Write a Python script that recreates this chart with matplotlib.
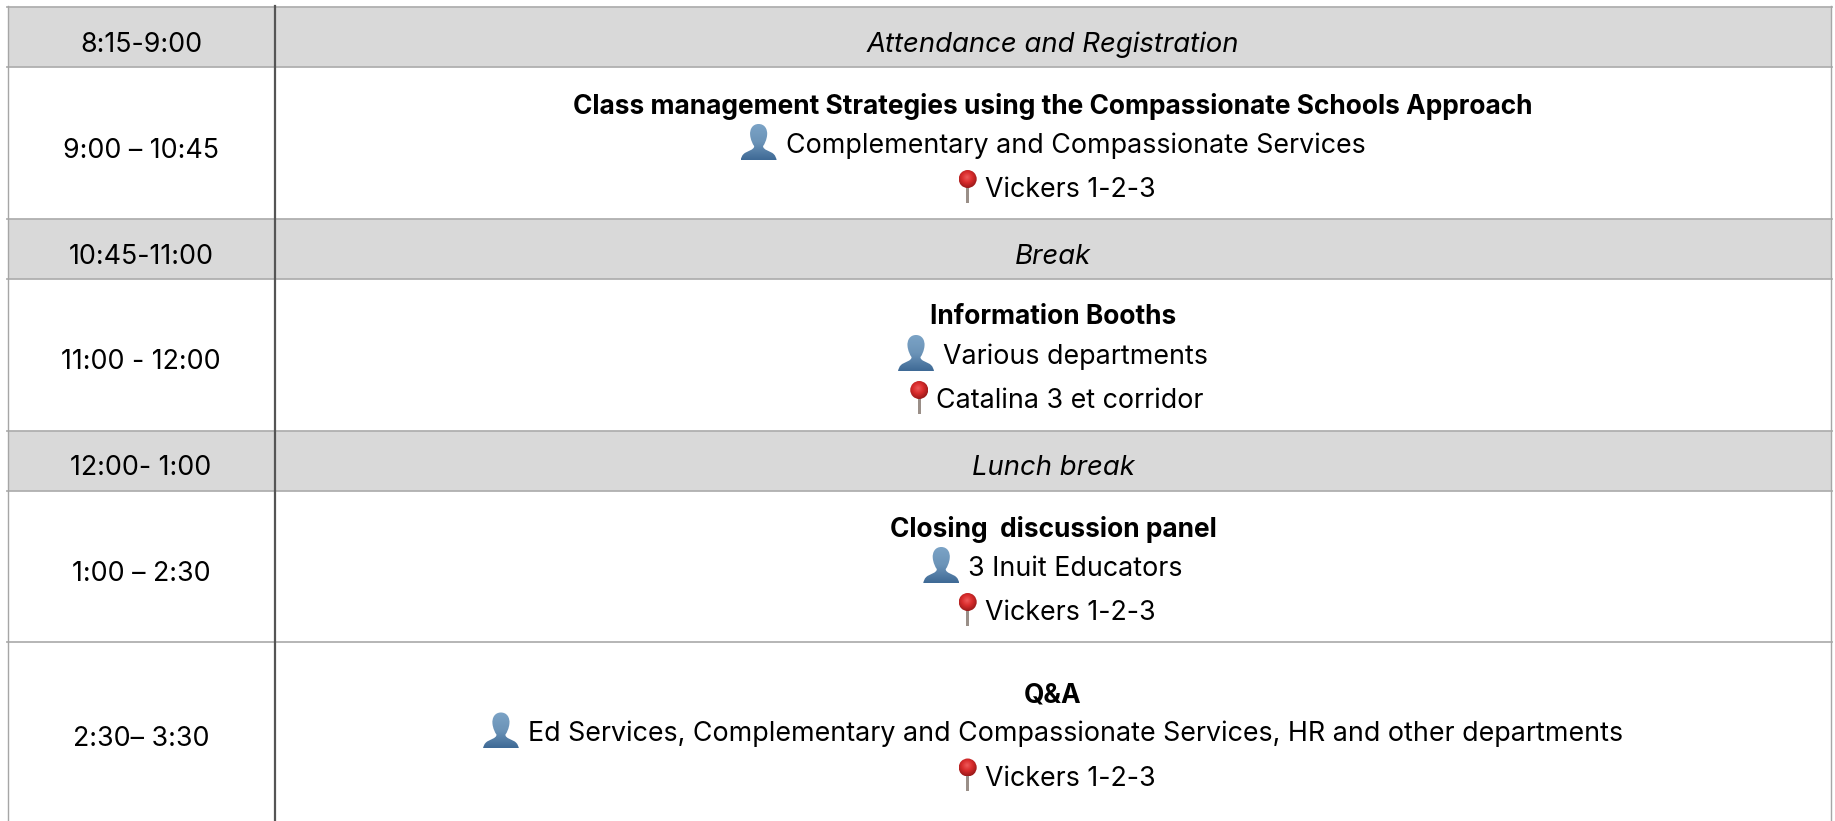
import numpy as np
import matplotlib
matplotlib.use("Agg")
import matplotlib.pyplot as plt
from matplotlib.path import Path
from matplotlib.patches import PathPatch, Rectangle, Circle

plt.rcParams['font.family'] = ['Inter', 'DejaVu Sans']

times = ["8:15-9:00", "9:00 – 10:45", "10:45-11:00", "11:00 - 12:00", "12:00- 1:00", "1:00 – 2:30", "2:30– 3:30"]
titles = ["Attendance and Registration", "Class management Strategies using the Compassionate Schools Approach",
          "Break", "Information Booths", "Lunch break", "Closing  discussion panel", "Q&A"]
people = [None, "Complementary and Compassionate Services", None, "Various departments", None,
          "3 Inuit Educators", "Ed Services, Complementary and Compassionate Services, HR and other departments"]
rooms = [None, "Vickers 1-2-3", None, "Catalina 3 et corridor", None, "Vickers 1-2-3", "Vickers 1-2-3"]

# layout, in pixels of the picture
row_edges = [7, 67.5, 219, 279.5, 431, 491.5, 642.5, 821]
time_y = [43, 149, 255, 360, 466, 572, 737.5]
col_left, col_div, col_right = 8, 274.5, 1831
col2_mid = 1053
FS = 19.3
FS_BOLD = 18.95
FS_ITALIC = 19.8
DY = 2  # text sits a bit lower than va='center' puts it

GRAD_BLUE = matplotlib.colors.LinearSegmentedColormap.from_list('b', ['#7ba3c6', '#6c94b8', '#3f6a96'])
GRAD_RED = matplotlib.colors.LinearSegmentedColormap.from_list('r', ['#ee5a5a', '#d92c2c', '#9c1a1a'])


def person(ax, x, y):
    # x, y = top left of the icon, 36 px box
    M, C, L = Path.MOVETO, Path.CURVE4, Path.LINETO
    verts = [(18, 0),
             (24, 0), (27, 5), (26.5, 11),
             (26, 16), (24, 20), (22.5, 22),
             (22, 26), (30, 27), (33, 30),
             (35, 32), (35.5, 34), (36, 36),
             (0, 36),
             (0.5, 34), (1, 32), (3, 30),
             (6, 27), (14, 26), (13.5, 22),
             (12, 20), (10, 16), (9.5, 11),
             (9, 5), (12, 0), (18, 0)]
    codes = [M, C, C, C, C, C, C, C, C, C, C, C, C, L, C, C, C, C, C, C, C, C, C, C, C, C]
    p = PathPatch(Path([(x + a, y + b) for a, b in verts], codes), fc='none', ec='none')
    ax.add_patch(p)
    im = ax.imshow(np.linspace(0, 1, 40)[:, None], extent=(x, x + 36, y + 36, y), cmap=GRAD_BLUE, aspect='auto', zorder=3)
    im.set_clip_path(p)


def pin(ax, x, y):
    # x, y = top left of the pin, 18 wide and 33 tall
    ax.add_patch(Rectangle((x + 7.5, y + 15), 3, 18, fc='#9a8f88', ec='none', zorder=3))
    c = Circle((x + 9, y + 9), 9, fc='none', ec='none')
    ax.add_patch(c)
    g = np.linspace(-1, 1, 40)
    gx, gy = np.meshgrid(g, g)
    r = np.sqrt((gx + 0.1) ** 2 + (gy + 0.2) ** 2)
    im = ax.imshow(r, extent=(x, x + 18, y + 18, y), cmap=GRAD_RED, vmin=0, vmax=1.2, aspect='auto', zorder=4)
    im.set_clip_path(c)


fig = plt.figure(figsize=(18.35, 8.21), dpi=100)
ax = fig.add_axes([0, 0, 1, 1])
ax.set_xlim(0, 1835)
ax.set_ylim(821, 0)
ax.axis('off')

# grey rows
for i in range(len(times)):
    if people[i] is None:
        ax.add_patch(Rectangle((col_left, row_edges[i]), col_right - col_left, row_edges[i + 1] - row_edges[i],
                               fc='#d9d9d9', ec='none', zorder=1))
for e in row_edges[:-1]:
    ax.plot([col_left - 1, col_right + 1], [e, e], color='#b0b0b0', lw=1.3, zorder=2)
ax.plot([col_left, col_left], [6, 821], color='#a6a6a6', lw=1.0, zorder=2)
ax.plot([col_right, col_right], [6, 821], color='#a6a6a6', lw=1.0, zorder=2)
ax.plot([col_div, col_div], [6, 821], color='#555555', lw=1.6, zorder=2)

rend = fig.canvas.get_renderer()


def width(t):
    return t.get_window_extent(rend).width


for i in range(len(times)):
    ym = time_y[i]
    ax.text(141, ym + DY, times[i], fontsize=FS, ha='center', va='center', color='black', zorder=5)
    if people[i] is None:
        ax.text(col2_mid, ym + DY, titles[i], fontsize=FS_ITALIC, style='italic', ha='center', va='center', zorder=5)
        continue
    ax.text(col2_mid, ym - 45.5 + DY + 1, titles[i], fontsize=FS_BOLD, fontweight='bold', ha='center', va='center', zorder=5)
    t = ax.text(0, ym - 5.5 + DY, people[i], fontsize=FS, ha='left', va='center', zorder=5)
    w = 36 + 9 + width(t)
    x0 = col2_mid - w / 2
    t.set_x(x0 + 45)
    person(ax, x0, ym - 25)
    t = ax.text(0, ym + 39 + DY, rooms[i], fontsize=FS, ha='left', va='center', zorder=5)
    w = 18 + 8 + width(t)
    x0 = col2_mid - w / 2 + 4
    t.set_x(x0 + 26)
    pin(ax, x0, ym + 21)

ax.set_xlim(0, 1835)
ax.set_ylim(821, 0)
fig.savefig("out.png", dpi=100)
